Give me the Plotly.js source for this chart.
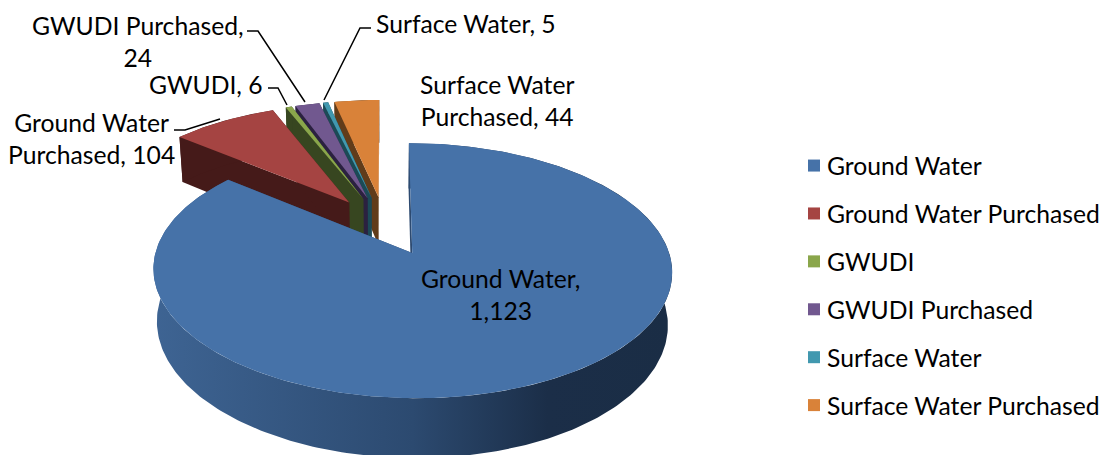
<!DOCTYPE html>
<html><head><meta charset="utf-8">
<script src="https://cdn.plot.ly/plotly-3.0.1.min.js"></script>
<style>html,body{margin:0;padding:0;background:#fff}</style>
</head><body><div id="chart" style="width:1108px;height:455px"></div>
<script>
const categories = ["Ground Water","Ground Water Purchased","GWUDI","GWUDI Purchased","Surface Water","Surface Water Purchased"];
const values = [1123,104,6,24,5,44];
const topColors = ["#4672A8","#A54442","#8AA64B","#71588F","#4198AF","#D98239"];
const sideColors = ["#2d4a70","#451A19","#374620","#2B2140","#1C4A56","#613C1A"];
const valueLabels = ["1,123","104","6","24","5","44"];

// Projection of the tilted, exploded 3D pie onto the page
const view = {X0:384.9, Y0:225.5, A:117.5, B:249, D:50, p:0.135, explode:0.25, shrink:0.015};
function proj(u,v,z){
  const s = 1/(1+view.p*v);
  return [view.X0 + view.B*u*s*(1-view.shrink*z), view.Y0 - view.A*v*s + view.D*z*s];
}
const total = values.reduce((a,b)=>a+b,0);
const traces = [];
function poly(pts,color,grad){
  const t = {type:"scatter",mode:"lines",x:pts.map(p=>p[0]),y:pts.map(p=>p[1]),fill:"toself",
    line:{width:0,color:color},fillcolor:color,hoverinfo:"skip",showlegend:false};
  if(grad){t.fillgradient={type:"horizontal",colorscale:grad};}
  traces.push(t);
}
const blueSide = [[0,"#3E6493"],[0.5,"#2C4A70"],[0.76,"#1B2E48"],[1,"#1A2D45"]];
const slices = [];
let acc = 0;
values.forEach((val,i)=>{
  const a0 = acc/total*2*Math.PI, a1 = (acc+val)/total*2*Math.PI; acc += val;
  slices.push({i,a0,a1,mid:(a0+a1)/2});
});
function sliceGeom(sl){
  const cu = Math.sin(sl.mid)*view.explode, cv = Math.cos(sl.mid)*view.explode;
  const n = Math.max(4,Math.ceil((sl.a1-sl.a0)/(Math.PI/180)));
  const rim = [];
  for(let k=0;k<=n;k++){const a=sl.a0+(sl.a1-sl.a0)*k/n; rim.push([cu+Math.sin(a),cv+Math.cos(a)]);}
  return {cu,cv,rim};
}
// painter's order: far-right small slices first, the large slice last
[5,4,3,2,1,0].forEach(i=>{
  const sl = slices[i], g = sliceGeom(sl);
  const side = sideColors[i];
  const first = g.rim[0], last = g.rim[g.rim.length-1];
  const apexT = proj(g.cu,g.cv,0), apexB = proj(g.cu,g.cv,1);
  poly([apexT,proj(first[0],first[1],0),proj(first[0],first[1],1),apexB],side);
  poly([apexT,proj(last[0],last[1],0),proj(last[0],last[1],1),apexB],side);
  const strip = g.rim.map(p=>proj(p[0],p[1],0)).concat(g.rim.slice().reverse().map(p=>proj(p[0],p[1],1)));
  poly(strip,side,i===0?blueSide:null);
  poly([apexT].concat(g.rim.map(p=>proj(p[0],p[1],0))),topColors[i]);
});
// legend entries
categories.forEach((c,i)=>traces.push({type:"scatter",mode:"markers",x:[null],y:[null],name:c,legendgroup:c,
  marker:{symbol:"square",size:16,color:topColors[i]},showlegend:true,hoverinfo:"skip"}));

const font = {family:"Lato, 'Open Sans', sans-serif",size:24.7,color:"#000"};
const ann = (text,x,y)=>({text,x,y,xref:"x",yref:"y",showarrow:false,font,align:"center",xanchor:"center",yanchor:"middle"});
const annotations = [
  ann(categories[0]+",<br>"+valueLabels[0],500,294),
  ann(categories[5].replace(" Purchased","<br>Purchased")+", "+valueLabels[5],497,100),
  ann(categories[4]+", "+valueLabels[4],466,23),
  ann(categories[3]+",<br>"+valueLabels[3],138,41),
  ann(categories[2]+", "+valueLabels[2],206,84),
  ann(categories[1].replace(" Purchased","<br>Purchased")+", "+valueLabels[1],91,138)
];
const leader = d=>({type:"path",path:d,xref:"x",yref:"y",line:{color:"#000",width:1.5},layer:"above"});
const shapes = [
  leader("M247,31 L258,31 L305,102"),
  leader("M371,28 L360,28 L324,100"),
  leader("M268,88 L278,88 L287,105"),
  leader("M174,130 L185,130 L220,119")
];
const layout = {
  width:1108,height:455,margin:{l:0,r:0,t:0,b:0},paper_bgcolor:"#fff",plot_bgcolor:"#fff",
  xaxis:{range:[0,1108],visible:false,fixedrange:true},
  yaxis:{range:[455,0],visible:false,fixedrange:true},
  showlegend:true,
  legend:{x:787/1108,y:1-143/455,xanchor:"left",yanchor:"top",font,tracegroupgap:12.8,traceorder:"grouped",
    itemsizing:"constant",bgcolor:"rgba(0,0,0,0)"},
  annotations,shapes
};
Plotly.newPlot("chart",traces,layout,{displayModeBar:false,staticPlot:true}).then(gd=>{
  // the swatch sits closer to its label than the default legend item width
  gd.querySelectorAll(".legend .legendpoints").forEach(el=>el.setAttribute("transform","translate(7,0)"));
});
</script></body></html>
